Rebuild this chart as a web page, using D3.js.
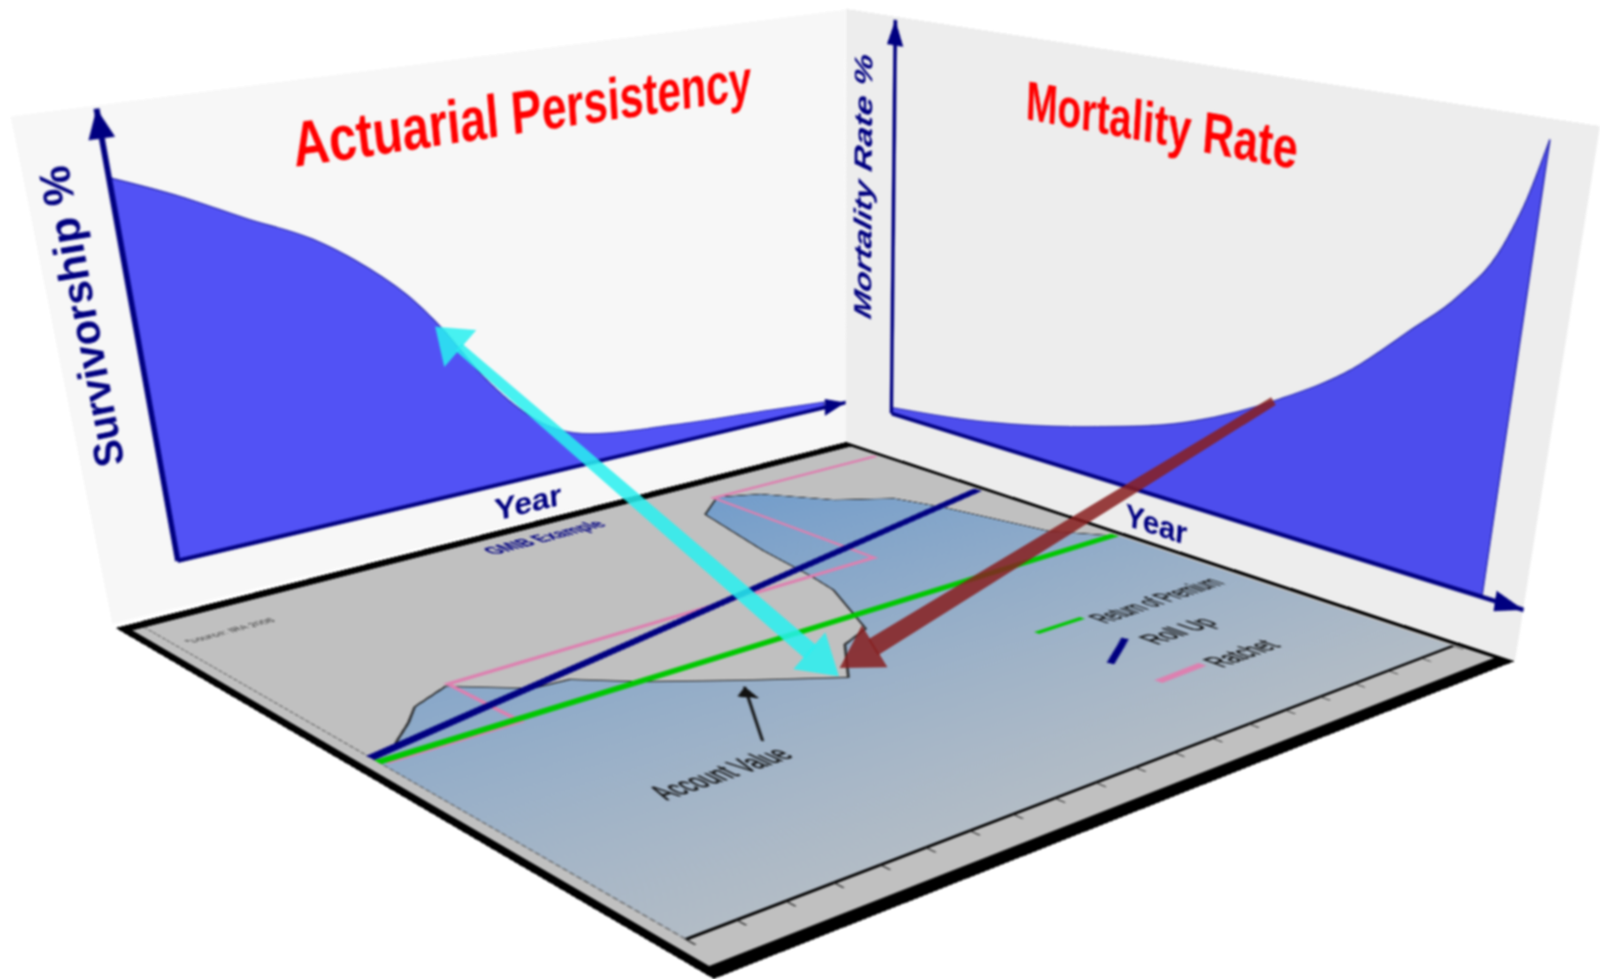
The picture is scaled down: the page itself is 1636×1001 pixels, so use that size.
<!DOCTYPE html>
<html>
<head>
<meta charset="utf-8">
<script src="https://cdn.jsdelivr.net/npm/d3@7"></script>
<style>
  html, body { margin: 0; background: #fff; overflow: hidden; }
  #page { position: relative; width: 1636px; height: 1001px; overflow: hidden; filter: blur(0.8px); }
  #page svg { position: absolute; left: 0; top: 0; transform-origin: 0 0; overflow: visible; }
  text { font-family: "Liberation Sans", Arial, sans-serif; }
</style>
</head>
<body>
<div id="page"></div>
<script>
// Survivorship wall
const survYears = [0, 7.7, 15, 22.7, 27.9, 34.4, 37.7, 43.1, 50.4, 56.8, 71.3, 86.8, 96.2];
const survValues = [86.1, 80.1, 73.4, 66.7, 60.2, 49.6, 42.3, 27.9, 13.9, 8.1, 4.8, 2.8, 1.5];

// Mortality wall
const mortYears = [0, 15.1, 36.4, 52.4, 64.5, 74.2, 81.4, 86.5, 91.4, 93.1, 94.7];
const mortValues = [1.6, 4.7, 12.4, 20.9, 31.3, 42.3, 54, 62.7, 76.1, 84.8, 96.8];

// GMIB floor chart
const acctYears = [0, 0.6, 1.4, 1.9, 2.9, 4.1, 4.9, 5.9, 7.4, 9, 10.1, 11, 12, 12.2, 12.5, 13.1, 14.1, 15, 16, 17.1, 17.5, 18.1, 19];
const acctValues = [51.4, 52.2, 56.5, 59.7, 62.4, 55.8, 55.3, 49.6, 42.9, 36.2, 43.8, 46, 58, 63.2, 74.4, 89.9, 94.5, 91.8, 83.6, 79, 72.2, 56.5, 49.7];
const premiumYears = [0, 19];
const premiumValues = [49.8, 50.2];
const rollUpYears = [0, 19];
const rollUpValues = [51.2, 74.5];
const ratchetYears = [0.1, 3, 3, 14, 14, 19];
const ratchetValues = [49.2, 49.2, 62.8, 63.4, 94.5, 94.4];
const floorTicks = d3.range(0, 20);

// legend samples and the annotation, in floor chart units
const legendPremium = [[13.4, 32.5], [14.7, 32.5]];
const legendRollUp = [[13.3, 20.7], [14.5, 24.9]];
const legendRatchet = [[13.3, 13.8], [14.6, 14.1]];
const acctNote = [[5.8, 28.9], [7.2, 41.4]];

// where the big arrows land: [year, value] on a wall and on the floor
const cyanWall = [37.2, 42];
const cyanFloor = [8.9, 37.1];
const redWall = [63.8, 30.6];
const redFloor = [9.2, 38.9];

// unit square to quad (Heckbert), scaled to the w x h of the flat chart
function quadToMatrix(w, h, q) {
  const [[x0, y0], [x1, y1], [x2, y2], [x3, y3]] = q;
  const dx1 = x1 - x2, dx2 = x3 - x2, sx = x0 - x1 + x2 - x3;
  const dy1 = y1 - y2, dy2 = y3 - y2, sy = y0 - y1 + y2 - y3;
  const d = dx1 * dy2 - dx2 * dy1;
  const g = (sx * dy2 - dx2 * sy) / d, k = (dx1 * sy - sx * dy1) / d;
  return [
    [(x1 - x0 + g * x1) / w, (x3 - x0 + k * x3) / h, x0],
    [(y1 - y0 + g * y1) / w, (y3 - y0 + k * y3) / h, y0],
    [g / w, k / h, 1]
  ];
}

function project(m, x, y) {
  const w = m[2][0] * x + m[2][1] * y + m[2][2];
  return [(m[0][0] * x + m[0][1] * y + m[0][2]) / w, (m[1][0] * x + m[1][1] * y + m[1][2]) / w];
}

const page = d3.select('#page');

// every plane is a flat svg warped with matrix3d
function addPlane(w, h, quad) {
  const m = quadToMatrix(w, h, quad);
  const svg = page.append('svg').attr('width', w).attr('height', h)
    .style('transform', `matrix3d(${m[0][0]},${m[1][0]},0,${m[2][0]},${m[0][1]},${m[1][1]},0,${m[2][1]},0,0,1,0,${m[0][2]},${m[1][2]},0,${m[2][2]})`);
  return { svg, m };
}

function addMarker(svg, id, color, size) {
  svg.append('defs').append('marker').attr('id', id)
    .attr('viewBox', '0 0 10 10').attr('refX', 10).attr('refY', 5)
    .attr('markerUnits', 'userSpaceOnUse')
    .attr('markerWidth', size).attr('markerHeight', size)
    .attr('orient', 'auto')
    .append('path').attr('d', 'M0,1L10,5L0,9Z').attr('fill', color);
}

function drawWall(plane, opts) {
  const svg = plane.svg;
  svg.append('rect').attr('width', 1000).attr('height', 640).attr('fill', opts.wallColor);
  addMarker(svg, opts.id, '#000080', 34);

  const area = d3.area()
    .x((d, i) => opts.x(opts.years[i]))
    .y0(opts.y(0))
    .y1(d => opts.y(d))
    .curve(d3.curveMonotoneX);
  svg.append('path').attr('d', area(opts.values))
    .attr('fill', opts.areaColor)
    .attr('stroke', '#2a2ab0').attr('stroke-width', 1.5);

  const xAxis = svg.append('g').attr('transform', `translate(0,${opts.y(0)})`)
    .call(d3.axisBottom(opts.x).tickValues([]).tickSizeOuter(0));
  const yAxis = svg.append('g').attr('transform', `translate(${opts.x(0)},0)`)
    .call(d3.axisLeft(opts.y).tickValues([]).tickSizeOuter(0));
  [xAxis, yAxis].forEach(a => a.select('.domain')
    .attr('stroke', '#000080').attr('stroke-width', opts.axisWidth)
    .attr('marker-end', `url(#${opts.id})`));
}

function label(svg, str, x, y, o) {
  const t = svg.append('text')
    .attr('transform', `translate(${x},${y})` + (o.rotate ? ` rotate(${o.rotate})` : ''))
    .attr('text-anchor', o.anchor || 'middle').attr('dominant-baseline', 'central')
    .attr('font-size', o.size).attr('font-weight', o.weight || 'bold')
    .attr('font-style', o.style || 'normal')
    .attr('fill', o.fill).text(str);
  if (o.length) t.attr('textLength', o.length).attr('lengthAdjust', 'spacingAndGlyphs');
  if (o.heavy) t.attr('stroke', o.fill).attr('stroke-width', o.heavy);
  return t;
}

// left wall
const leftWall = addPlane(1000, 640, [[11, 119], [864, 10], [865, 452], [115, 638]]);
const leftX = d3.scaleLinear().domain([0, 100]).range([84, 999]);
const leftY = d3.scaleLinear().domain([0, 100]).range([575, 3]);
drawWall(leftWall, { id: 'arrowL', wallColor: '#f7f7f7', areaColor: '#5252f5', axisWidth: 6,
  x: leftX, y: leftY, years: survYears, values: survValues });
label(leftWall.svg, 'Actuarial Persistency', 573, 75, { size: 76, fill: '#ff0000', length: 580 });
label(leftWall.svg, 'Survivorship %', 31, 246, { size: 44, fill: '#000080', rotate: -90, length: 370 });
label(leftWall.svg, 'Year', 523, 612, { size: 46, fill: '#000080', length: 92 });

// right wall
const rightWall = addPlane(1000, 640, [[865, 9], [1636, 129], [1549, 676], [865, 452]]);
const rightX = d3.scaleLinear().domain([0, 100]).range([83, 1000]);
const rightY = d3.scaleLinear().domain([0, 100]).range([571, 4]);
drawWall(rightWall, { id: 'arrowR', wallColor: '#ededed', areaColor: '#4d4ded', axisWidth: 6,
  x: rightX, y: rightY, years: mortYears, values: mortValues });
label(rightWall.svg, 'Mortality Rate', 481, 80, { size: 71, fill: '#ff0000', length: 375 });
label(rightWall.svg, 'Mortality Rate %', 30, 247, { size: 44, fill: '#000080', rotate: -90, style: 'italic', length: 380 });
label(rightWall.svg, 'Year', 520, 612, { size: 46, fill: '#000080', length: 92 });

// floor
const floor = addPlane(1000, 700, [[118, 642], [865, 452], [1549, 676], [730, 1001]]);
const fx = d3.scaleLinear().domain([0, 19]).range([23, 988]);
const fy = d3.scaleLinear().domain([0, 100]).range([654, 13]);
const fsvg = floor.svg;

const blueGrad = fsvg.append('defs').append('linearGradient').attr('id', 'blue')
  .attr('gradientUnits', 'userSpaceOnUse')
  .attr('x1', 0).attr('y1', fy(100)).attr('x2', 0).attr('y2', fy(0));
blueGrad.append('stop').attr('offset', '0%').attr('stop-color', '#6f9bcb');
blueGrad.append('stop').attr('offset', '100%').attr('stop-color', '#b2bcc6');
addMarker(fsvg, 'arrowN', '#111', 22);

fsvg.append('rect').attr('width', 1000).attr('height', 700).attr('fill', '#000');
fsvg.append('rect').attr('x', 10).attr('y', 13).attr('width', 982).attr('height', 674).attr('fill', '#c0c0c0');

const acctArea = d3.area()
  .x((d, i) => fx(acctYears[i]))
  .y0(fy(0))
  .y1(d => fy(d));
const acctLine = d3.line()
  .x((d, i) => fx(acctYears[i]))
  .y(d => fy(d));
fsvg.append('path').attr('d', acctArea(acctValues)).attr('fill', 'url(#blue)');
fsvg.append('path').attr('d', acctLine(acctValues))
  .attr('fill', 'none').attr('stroke', '#222').attr('stroke-width', 2);

fsvg.append('g').attr('transform', `translate(0,${fy(0)})`)
  .call(d3.axisBottom(fx).tickValues(floorTicks).tickFormat('').tickSize(9).tickSizeOuter(0))
  .call(g => g.select('.domain').attr('stroke', '#000').attr('stroke-width', 3))
  .call(g => g.selectAll('.tick line').attr('stroke', '#222').attr('stroke-width', 1.6));
fsvg.append('g').attr('transform', `translate(${fx(0)},0)`)
  .call(d3.axisLeft(fy).tickValues([]).tickSizeOuter(0))
  .call(g => g.select('.domain').attr('stroke', '#555').attr('stroke-width', 1.4).attr('stroke-dasharray', '5 2'));

function seriesLine(xs, ys, color, width) {
  const line = d3.line().x((d, i) => fx(xs[i])).y(d => fy(d));
  fsvg.append('path').attr('d', line(ys)).attr('fill', 'none')
    .attr('stroke', color).attr('stroke-width', width);
}
seriesLine(ratchetYears, ratchetValues, '#dd80b0', 5.5);
seriesLine(rollUpYears, rollUpValues, '#000080', 9);
seriesLine(premiumYears, premiumValues, '#00c800', 8.5);

const pairLine = d3.line().x(d => fx(d[0])).y(d => fy(d[1]));
fsvg.append('path').attr('d', pairLine(legendPremium)).attr('stroke', '#00c800').attr('stroke-width', 5).attr('fill', 'none');
fsvg.append('path').attr('d', pairLine(legendRollUp)).attr('stroke', '#000080').attr('stroke-width', 6).attr('fill', 'none');
fsvg.append('path').attr('d', pairLine(legendRatchet)).attr('stroke', '#dd80b0').attr('stroke-width', 7).attr('fill', 'none');
fsvg.append('path').attr('d', pairLine(acctNote)).attr('stroke', '#111').attr('stroke-width', 2.6).attr('fill', 'none')
  .attr('marker-end', 'url(#arrowN)');

label(fsvg, 'GMIB Example', 502, 39, { size: 28, fill: '#000080', length: 156 });
label(fsvg, '*source: IRA 2006', 86, 61, { size: 13, weight: 'normal', fill: '#333', length: 100 });
label(fsvg, 'Return of Premium', 867, 456, { size: 28, weight: 'normal', fill: '#111', length: 183, heavy: 0.5 });
label(fsvg, 'Roll Up', 816, 509, { size: 28, weight: 'normal', fill: '#111', length: 92, heavy: 0.5 });
label(fsvg, 'Ratchet', 816, 568, { size: 28, weight: 'normal', fill: '#111', length: 88, heavy: 0.5 });
label(fsvg, 'Account Value', 244, 491, { size: 32, weight: 'normal', fill: '#111', length: 146, heavy: 0.5 });

// big arrows cross from a wall to the floor, so they live in screen space
const overlay = page.append('svg').attr('width', 1636).attr('height', 1001);

function bigArrow(from, to, o) {
  const dx = to[0] - from[0], dy = to[1] - from[1], len = Math.hypot(dx, dy);
  const ux = dx / len, uy = dy / len, nx = -uy, ny = ux;
  const at = (p, along, side) => [p[0] + ux * along + nx * side, p[1] + uy * along + ny * side];
  const shape = d3.line();
  const g = overlay.append('g').attr('fill', o.color).attr('fill-opacity', o.opacity);
  const pts = [at(from, 0, -o.tailWidth / 2), at(to, -o.headLength + 2, -o.neckWidth / 2), at(to, -o.headLength + 2, o.neckWidth / 2), at(from, 0, o.tailWidth / 2)];
  if (o.tailHead) {
    pts[0] = at(from, o.tailHead.length - 2, -o.tailWidth / 2);
    pts[3] = at(from, o.tailHead.length - 2, o.tailWidth / 2);
    g.append('path').attr('d', shape([from, at(from, o.tailHead.length, o.tailHead.half), at(from, o.tailHead.length, -o.tailHead.half)]) + 'Z');
  }
  g.append('path').attr('d', shape(pts) + 'Z');
  g.append('path').attr('d', shape([to, at(to, -o.headLength, o.headHalf), at(to, -o.headLength, -o.headHalf)]) + 'Z');
}

bigArrow(project(rightWall.m, rightX(redWall[0]), rightY(redWall[1])),
  project(floor.m, fx(redFloor[0]), fy(redFloor[1])),
  { color: '#871e1e', opacity: 0.85, tailWidth: 9, neckWidth: 19, headLength: 42, headHalf: 25 });
bigArrow(project(leftWall.m, leftX(cyanWall[0]), leftY(cyanWall[1])),
  project(floor.m, fx(cyanFloor[0]), fy(cyanFloor[1])),
  { color: '#28f0f0', opacity: 0.85, tailWidth: 10, neckWidth: 18, headLength: 40, headHalf: 25, tailHead: { length: 34, half: 25 } });
</script>
</body>
</html>
